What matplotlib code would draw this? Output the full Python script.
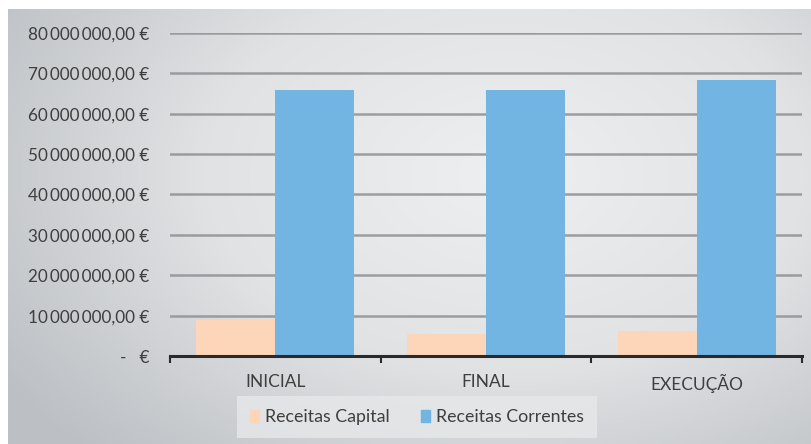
import numpy as np
import matplotlib.pyplot as plt
from matplotlib.colors import LinearSegmentedColormap
from matplotlib.patches import Patch

plt.rcParams['font.family'] = ['Lato', 'DejaVu Sans']

categorias = ['INICIAL', 'FINAL', 'EXECUÇÃO']
receitas_capital = [8900000, 5400000, 6200000]
receitas_correntes = [65800000, 65800000, 68300000]
y_ticks = [0, 10000000, 20000000, 30000000, 40000000, 50000000, 60000000, 70000000, 80000000]


def fmt_euro(v):
    if v == 0:
        return '-   €'
    s = '{:,.2f}'.format(v)
    inteiro, dec = s.split('.')
    return inteiro.replace(',', '\u2009') + ',' + dec + ' €'


fig = plt.figure(figsize=(8.11, 4.44), dpi=100)
fig.patch.set_facecolor('white')

# fundo com degradê radial
bg = fig.add_axes([8 / 811, 0, 1 - 8 / 811, 1 - 9 / 444])
bg.set_axis_off()
xx, yy = np.meshgrid(np.linspace(0, 1, 400), np.linspace(0, 1, 220))
r = np.sqrt(((xx - 0.62) / 0.75) ** 2 + ((yy - 0.62) / 0.9) ** 2)
cmap = LinearSegmentedColormap.from_list('bg', ['#eeeff0', '#e0e2e4', '#bcbfc3'])
bg.imshow(np.clip(r, 0, 1), cmap=cmap, aspect='auto', origin='lower', extent=[0, 1, 0, 1])

ax = fig.add_axes([170 / 811, 1 - 356 / 444, (802 - 170) / 811, (356 - 33) / 444])
ax.patch.set_alpha(0)

x = np.arange(len(categorias))
w = 0.375
ax.bar(x - w / 2, receitas_capital, w, color='#fdd5b8', label='Receitas Capital', zorder=3)
ax.bar(x + w / 2, receitas_correntes, w, color='#72b4e2', label='Receitas Correntes', zorder=3)

ax.set_xlim(-0.5, 2.5)
ax.set_ylim(0, 80000000)
ax.set_yticks(y_ticks)
ax.set_yticklabels([fmt_euro(v) for v in y_ticks], fontsize=12.3, color='#3e3e3e')
ax.yaxis.grid(True, color='#8e9093', linewidth=1.8, alpha=0.85, zorder=0)
ax.tick_params(axis='y', length=0, pad=15)

ax.set_xticks(x)
ax.set_xticklabels(categorias, fontsize=12.5, color='#3e3e3e')
ax.set_xticks([-0.5, 0.5, 1.5, 2.5], minor=True)
ax.tick_params(axis='x', which='major', length=0, pad=13)
ax.tick_params(axis='x', which='minor', length=5, width=1.5, color='#2a2a2a', direction='out')

for s in ['top', 'right', 'left']:
    ax.spines[s].set_visible(False)
ax.spines['bottom'].set_color('#2a2a2a')
ax.spines['bottom'].set_linewidth(2.2)
ax.spines['bottom'].set_zorder(4)

handles = [Patch(color='#fdd5b8', label='Receitas Capital'),
           Patch(color='#72b4e2', label='Receitas Correntes')]
leg = fig.legend(handles=handles, loc='center', bbox_to_anchor=(417 / 811, 1 - 417 / 444),
                 ncol=2, frameon=True, fontsize=12.8, handlelength=0.5, handleheight=0.7,
                 handletextpad=0.3, columnspacing=1.8, borderpad=0.45)
leg.get_frame().set_facecolor('#e6e8ea')
leg.get_frame().set_edgecolor('none')
leg.get_frame().set_alpha(0.8)
leg.get_frame().set_boxstyle('square', pad=0.3)
for t in leg.get_texts():
    t.set_color('#3e3e3e')

fig.savefig('out.png', dpi=100)
